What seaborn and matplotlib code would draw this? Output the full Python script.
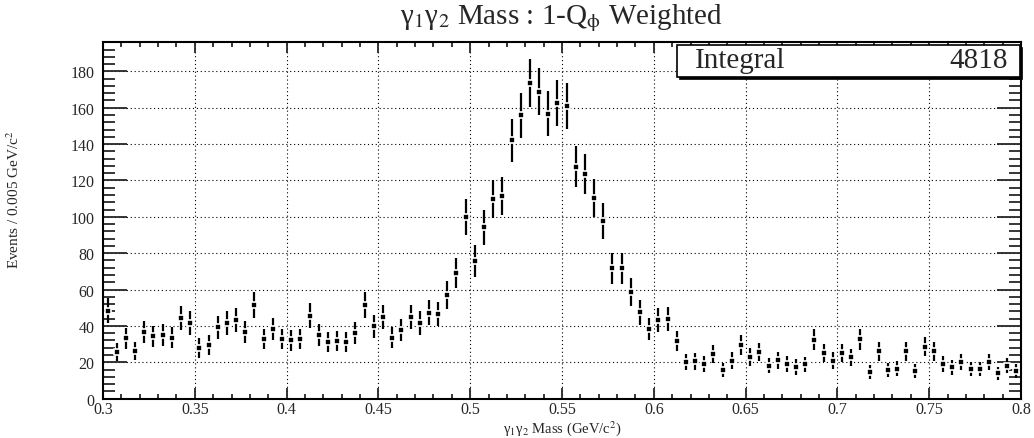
import numpy as np
import pandas as pd
import seaborn as sns
import matplotlib.pyplot as plt
from matplotlib.patches import Rectangle
from matplotlib.ticker import MultipleLocator, FuncFormatter

# histogram binning (GeV/c^2)
mass_min = 0.3
mass_max = 0.8
bin_width = 0.005

# weighted events per bin
events = [
    48.3, 25.5, 33.3, 26.2, 36.6, 34.3, 35.0, 33.5, 44.2, 41.6,
    27.8, 29.3, 39.2, 41.6, 43.2, 36.6, 51.3, 32.8, 38.3, 32.8,
    32.1, 32.8, 45.6, 35.0, 31.1, 31.8, 31.1, 35.9, 51.3, 39.8,
    44.9, 33.5, 37.7, 44.9, 41.6, 47.2, 46.5, 57.0, 69.1, 99.9,
    75.7, 94.2, 109.6, 111.4, 142.1, 155.8, 173.8, 168.8, 156.7, 162.6,
    160.8, 127.6, 123.5, 110.5, 97.5, 71.6, 71.6, 58.5, 47.5, 38.3,
    43.2, 43.9, 31.8, 20.0, 20.5, 18.9, 24.5, 15.7, 20.8, 29.3,
    22.9, 25.5, 18.2, 21.1, 18.9, 17.4, 18.8, 32.5, 24.9, 20.8,
    25.2, 22.7, 32.6, 14.8, 26.0, 15.6, 16.4, 26.0, 15.3, 28.5,
    26.0, 19.0, 17.2, 20.0, 16.3, 16.3, 20.0, 13.9, 18.1, 15.3,
]

title = r"γ$_1$γ$_2$ Mass : 1-Q$_{\mathrm{ϕ}}$ Weighted"
x_title = r"γ$_1$γ$_2$ Mass (GeV/c$^2$)"
y_title = r"Events / 0.005 GeV/c$^2$"
stats_label = "Integral"
stats_value = "4818"

centers = mass_min + bin_width * (np.arange(len(events)) + 0.5)
df = pd.DataFrame({"mass": centers, "events": events})
df["err"] = np.sqrt(df["events"])

sns.set_style("white")
plt.rcParams["font.family"] = ["Liberation Serif", "DejaVu Serif"]
plt.rcParams["mathtext.fontset"] = "stix"

W, H = 1034, 439
fig = plt.figure(figsize=(W / 100, H / 100), dpi=100)
ax = fig.add_axes([103 / W, 1 - 399.6 / H, (1021 - 103) / W, (399.6 - 42.7) / H])

ax.vlines(df["mass"], df["events"] - df["err"], df["events"] + df["err"],
          color="black", lw=1.6, zorder=3)
sns.scatterplot(data=df, x="mass", y="events", marker="s", s=23, color="black",
                edgecolor="white", linewidth=1.2, ax=ax, zorder=4, legend=False)

ax.set_xlim(mass_min, mass_max)
ax.set_ylim(0, 196.3)
ax.xaxis.set_major_locator(MultipleLocator(0.05))
ax.xaxis.set_minor_locator(MultipleLocator(0.01))
ax.yaxis.set_major_locator(MultipleLocator(20))
ax.yaxis.set_minor_locator(MultipleLocator(4))
ax.xaxis.set_major_formatter(FuncFormatter(lambda v, p: f"{v:g}"))
ax.yaxis.set_major_formatter(FuncFormatter(lambda v, p: f"{v:g}"))
ax.grid(True, which="major", color="black", lw=0.8, ls=(0, (1, 2.5)))
ax.set_axisbelow(True)

ax.tick_params(axis="x", which="major", direction="in", length=8, width=1.3,
               top=True, bottom=True, labelsize=11.5, pad=2)
ax.tick_params(axis="x", which="minor", direction="in", length=3.6, width=1.3,
               top=True, bottom=True)
ax.tick_params(axis="y", which="major", direction="in", length=17, width=1.3,
               left=True, right=True, labelsize=11.5, pad=6)
ax.tick_params(axis="y", which="minor", direction="in", length=8.6, width=1.3,
               left=True, right=True)
for s in ax.spines.values():
    s.set_linewidth(1.5)
    s.set_color("black")
ax.set_xlabel("")
ax.set_ylabel("")

fig.text(562 / W, 1 - 18 / H, title, ha="center", va="center", fontsize=21)
fig.text(562 / W, 1 - 429 / H, x_title, ha="center", va="center", fontsize=10.5)
fig.text(14 / W, 1 - 200 / H, y_title, ha="center", va="center", fontsize=11,
         rotation=90)

# stats box with shadow
bx0, bx1, by0, by1 = 677, 1020, 46, 78
shadow = Rectangle(((bx0 + 1.5) / W, 1 - (by1 + 1.5) / H), (bx1 - bx0) / W,
                   (by1 - by0) / H, transform=fig.transFigure,
                   facecolor="black", edgecolor="black", lw=0.5, zorder=10)
box = Rectangle((bx0 / W, 1 - by1 / H), (bx1 - bx0) / W, (by1 - by0) / H,
                transform=fig.transFigure, facecolor="white",
                edgecolor="black", lw=1.2, zorder=11)
fig.add_artist(shadow)
fig.add_artist(box)
fig.text(695 / W, 1 - 61 / H, stats_label, ha="left", va="center",
         fontsize=21, zorder=12)
fig.text(1008 / W, 1 - 61 / H, stats_value, ha="right", va="center",
         fontsize=21, zorder=12)

fig.savefig("out.png", dpi=100)
